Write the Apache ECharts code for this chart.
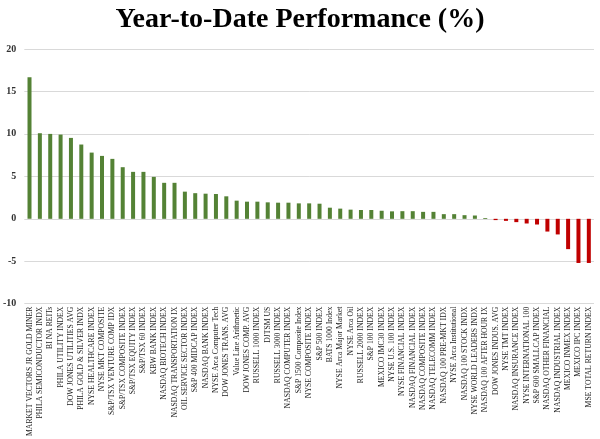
<!DOCTYPE html>
<html>
<head>
<meta charset="utf-8">
<script src="https://cdn.jsdelivr.net/npm/echarts@6/dist/echarts.min.js"></script>
<style>html,body{margin:0;padding:0;background:#fff;}#c{width:600px;height:439px;}</style>
</head>
<body>
<div id="c"></div>
<script>
const categories = [
  "MARKET VECTORS JR GOLD MINER","PHILA SEMICONDUCTOR INDX","BI NA REITs","PHILA UTILITY INDEX",
  "DOW JONES UTILITIES AVG","PHILA GOLD & SILVER INDX","NYSE HEALTHCARE INDEX","NYSE MKT COMPOSITE",
  "S&P/TSX VENTURE COMP IDX","S&P/TSX COMPOSITE INDEX","S&P/TSX EQUITY INDEX","S&P/TSX 60 INDEX",
  "KBW BANK INDEX","NASDAQ BIOTECH INDEX","NASDAQ TRANSPORTATION IX","OIL SERVICE SECTOR INDEX",
  "S&P 400 MIDCAP INDEX","NASDAQ BANK INDEX","NYSE Arca Computer Tech","DOW JONES TRANS. AVG",
  "Value Line Arithmetic","DOW JONES COMP. AVG","RUSSELL 1000 INDEX","DJTSM US",
  "RUSSELL 3000 INDEX","NASDAQ COMPUTER INDEX","S&P 1500 Composite Index","NYSE COMPOSITE INDEX",
  "S&P 500 INDEX","BATS 1000 Index","NYSE Arca Major Market","NYSE Arca Oil",
  "RUSSELL 2000 INDEX","S&P 100 INDEX","MEXICO IMC30 INDEX","NYSE U.S. 100 INDEX",
  "NYSE FINANCIAL INDEX","NASDAQ FINANCIAL INDEX","NASDAQ COMPOSITE INDEX","NASDAQ TELECOMM INDEX",
  "NASDAQ 100 PRE-MKT IDX","NYSE Arca Institutional","NASDAQ 100 STOCK INDX","NYSE WORLD LEADERS INDX",
  "NASDAQ 100 AFTER HOUR IX","DOW JONES INDUS. AVG","NYSE TMT INDEX","NASDAQ INSURANCE INDEX",
  "NYSE INTERNATIONAL 100","S&P 600 SMALLCAP INDEX","NASDAQ OTHER FINANCIAL","NASDAQ INDUSTRIAL INDEX",
  "MEXICO INMEX INDEX","MEXICO IPC INDEX","MSE TOTAL RETURN INDEX"
];
const values = [
  16.67, 10.08, 10.0, 9.92, 9.53, 8.75, 7.8, 7.41,
  7.06, 6.08, 5.53, 5.53, 4.94, 4.24, 4.24, 3.2,
  3.02, 2.96, 2.92, 2.65, 2.14, 2.02, 2.02, 1.94,
  1.9, 1.9, 1.82, 1.82, 1.78, 1.31, 1.2, 1.08,
  1.04, 1.04, 0.95, 0.88, 0.9, 0.9, 0.82, 0.82,
  0.55, 0.55, 0.43, 0.39, 0.1, -0.15, -0.24, -0.39,
  -0.55, -0.67, -1.5, -1.84, -3.57, -5.2, -5.2
];
const yTicks = { min: -10, max: 20, interval: 5 };
const titleText = "Year-to-Date Performance (%)";

const chart = echarts.init(document.getElementById('c'), null, { renderer: 'canvas' });
chart.setOption({
  animation: false,
  title: {
    text: titleText, left: 'center', top: 1,
    textStyle: { fontFamily: 'Liberation Serif', fontWeight: 'bold', fontSize: 28, color: '#000' }
  },
  grid: { left: 22, right: 6, top: 49, bottom: 135, containLabel: false },
  xAxis: {
    type: 'category', data: categories,
    axisLine: { show: false, onZero: false },
    axisTick: { show: false },
    axisLabel: { interval: 0, rotate: 90, fontFamily: 'Liberation Serif', fontSize: 7.7, color: '#222', margin: 3 }
  },
  yAxis: {
    type: 'value', min: yTicks.min, max: yTicks.max, interval: yTicks.interval,
    axisLine: { show: false }, axisTick: { show: false },
    splitLine: { lineStyle: { color: '#d9d9d9', width: 1 } },
    axisLabel: { fontFamily: 'Liberation Serif', fontWeight: 'bold', fontSize: 10, color: '#333', margin: 8 }
  },
  series: [{
    type: 'bar', barWidth: 4,
    data: values.map(v => ({ value: v, itemStyle: { color: v >= 0 ? '#548235' : '#c00000' } }))
  }]
});
</script>
</body>
</html>
